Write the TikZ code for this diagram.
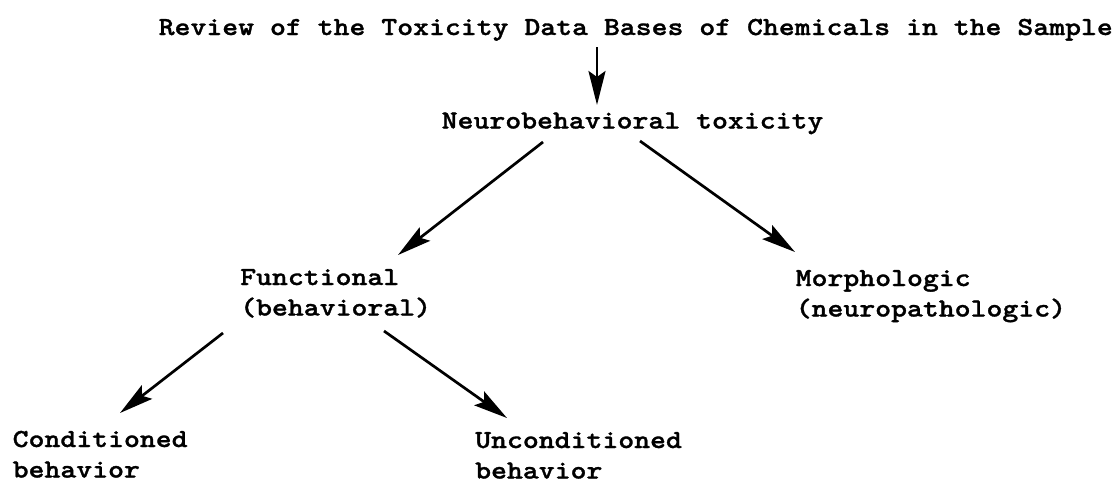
\documentclass[tikz,border=0pt]{standalone}
\usepackage{fontspec}
\newfontfamily\labelfont{lmmonolt10-bold.otf}[FakeStretch=1.165, FakeBold=1.2]
\usetikzlibrary{arrows.meta}
\begin{document}
\begin{tikzpicture}[x=1pt,y=1pt,
  lbl/.style={inner sep=0pt, anchor=base west, align=left,
    font=\labelfont\fontsize{26}{30.5}\selectfont},
  link/.style={line width=2.7pt, -{Stealth[length=34pt,width=17pt,inset=6pt]}}]
  \useasboundingbox (0,0) rectangle (1117,-483);

  % labels of the hierarchy (base anchor = baseline of the last line)
  \node[lbl] (review) at (158.5,-35) {Review of the Toxicity Data Bases of Chemicals in the Sample};
  \node[lbl] (neuro)  at (441.5,-128.5) {Neurobehavioral toxicity};
  \node[lbl] (func)   at (240,-315.5) {Functional\\(behavioral)};
  \node[lbl] (morph)  at (795.5,-316.5) {Morphologic\\(neuropathologic)};
  \node[lbl] (cond)   at (12.5,-477.5) {Conditioned\\behavior};
  \node[lbl] (uncond) at (475,-478.5) {Unconditioned\\behavior};

  % connectors, anchored on the label baselines
  \draw[link] ([shift={(438.5,-12)}]review.base west) -- ([shift={(155.5,23.5)}]neuro.base west);
  \draw[link] ([shift={(101.5,-13.5)}]neuro.base west) -- ([shift={(158,60.5)}]func.base west);
  \draw[link] ([shift={(198.5,-12.5)}]neuro.base west) -- ([shift={(-0.5,64.5)}]morph.base west);
  \draw[link] ([shift={(-17,-17.5)}]func.base west) -- ([shift={(107.5,64.5)}]cond.base west);
  \draw[link] ([shift={(144,-15.5)}]func.base west) -- ([shift={(32,60.5)}]uncond.base west);
\end{tikzpicture}
\end{document}
